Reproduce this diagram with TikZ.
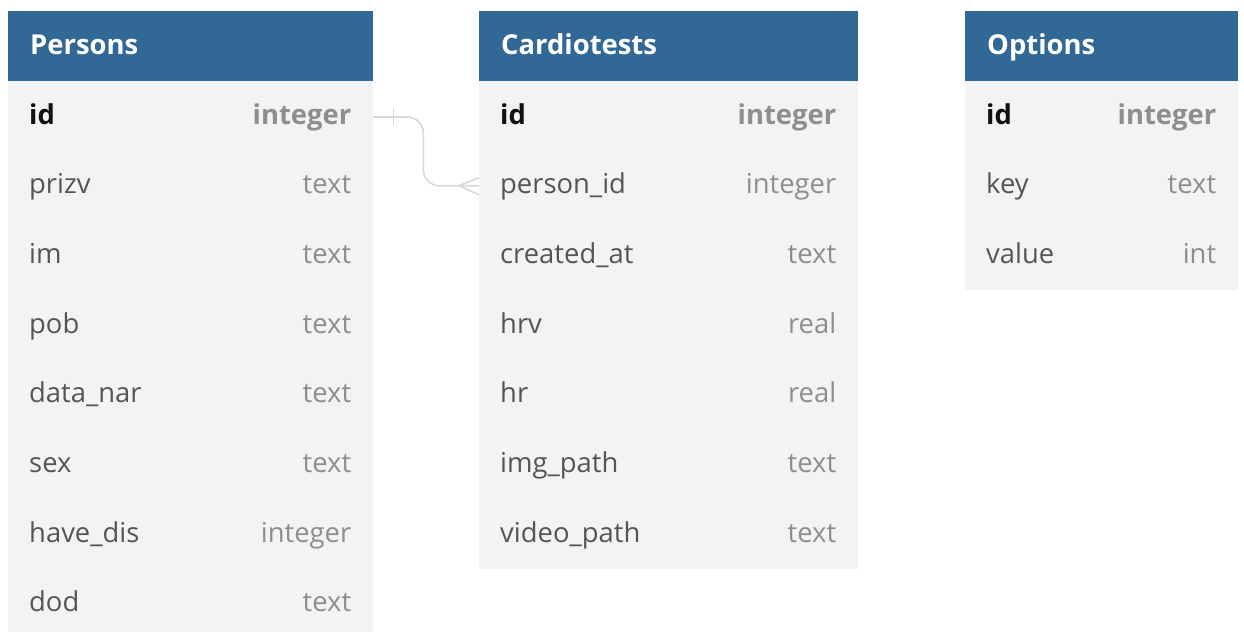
\documentclass[tikz,border=0pt]{standalone}
\usepackage{fontspec}
\setmainfont{Open Sans}
\definecolor{hdrblue}{HTML}{316896}
\definecolor{bodyfill}{HTML}{F3F3F3}
\definecolor{nametxt}{HTML}{555555}
\definecolor{keytxt}{HTML}{111111}
\definecolor{typetxt}{HTML}{8E8E8E}
\definecolor{linkgray}{HTML}{D8D8D8}

\tikzset{
  hdrbox/.style={fill=hdrblue, draw=none, text=white, font=\fontsize{27.5}{32}\selectfont\bfseries,
    anchor=north west, minimum height=70bp, inner xsep=22bp, inner ysep=0pt, align=left,
    text height=20bp, text depth=4bp},
  rowbox/.style={fill=bodyfill, draw=none, anchor=north west, minimum height=69.7bp, inner sep=0pt},
  fieldname/.style={anchor=base west, inner sep=0pt, text=nametxt},
  fieldtype/.style={anchor=base east, inner sep=0pt, text=typetxt},
  pkname/.style={fieldname, text=keytxt, font=\fontsize{27.5}{32}\selectfont\bfseries},
  pktype/.style={fieldtype, font=\fontsize{27.5}{32}\selectfont\bfseries},
  relation/.style={draw=linkgray, line width=1.6bp},
}

% one table: #1 prefix, #2 x of left edge, #3 width, #4 title, #5 list of name/type rows
\newcommand\ertable[5]{%
  \node[hdrbox, text width=#3bp-44bp] (#1) at (#2,11) {#4};
  \foreach \fname/\ftype [count=\i] in {#5} {
    \node[rowbox, minimum width=#3bp] (#1-\i) at (#2,{81+69.7*(\i-1)}) {};
    \ifnum\i=1
      \node[pkname] (#1-\i-name) at ([xshift=21bp,yshift=-8bp]#1-\i.west) {\fname};
      \node[pktype] (#1-\i-type) at ([xshift=-22bp,yshift=-8bp]#1-\i.east) {\ftype};
    \else
      \node[fieldname] (#1-\i-name) at ([xshift=21bp,yshift=-8bp]#1-\i.west) {\fname};
      \node[fieldtype] (#1-\i-type) at ([xshift=-22bp,yshift=-8bp]#1-\i.east) {\ftype};
    \fi
  }%
}

\begin{document}
\begin{tikzpicture}[x=1bp, y=-1bp, font=\fontsize{27.5}{32}\selectfont]
\useasboundingbox[fill=white] (0,0) rectangle (1244,632);
\begin{scope}
\clip (0,0) rectangle (1244,632);

\ertable{persons}{8}{365}{Persons}{id/integer, prizv/text, im/text, pob/text,
  data\_nar/text, sex/text, have\_dis/integer, dod/text}
\ertable{cardio}{479}{379}{Cardiotests}{id/integer, person\_id/integer,
  created\_at/text, hrv/real, hr/real, img\_path/text, video\_path/text}
\ertable{options}{965}{273}{Options}{id/integer, key/text, value/int}

% one-to-many link: persons.id -> cardiotests.person_id
\draw[relation, rounded corners=16bp]
  ([yshift=-1bp]persons-1.east) -- ++(50,0) |- (cardio-2.west);
% "one" bar on the persons side
\draw[relation] ([xshift=20bp,yshift=8bp]persons-1.east) -- ++(0,17);
% crow's foot on the cardiotests side
\draw[relation] ([xshift=-20bp]cardio-2.west) -- ([yshift=8bp]cardio-2.west);
\draw[relation] ([xshift=-20bp]cardio-2.west) -- ([yshift=-9bp]cardio-2.west);
\end{scope}
\end{tikzpicture}
\end{document}
